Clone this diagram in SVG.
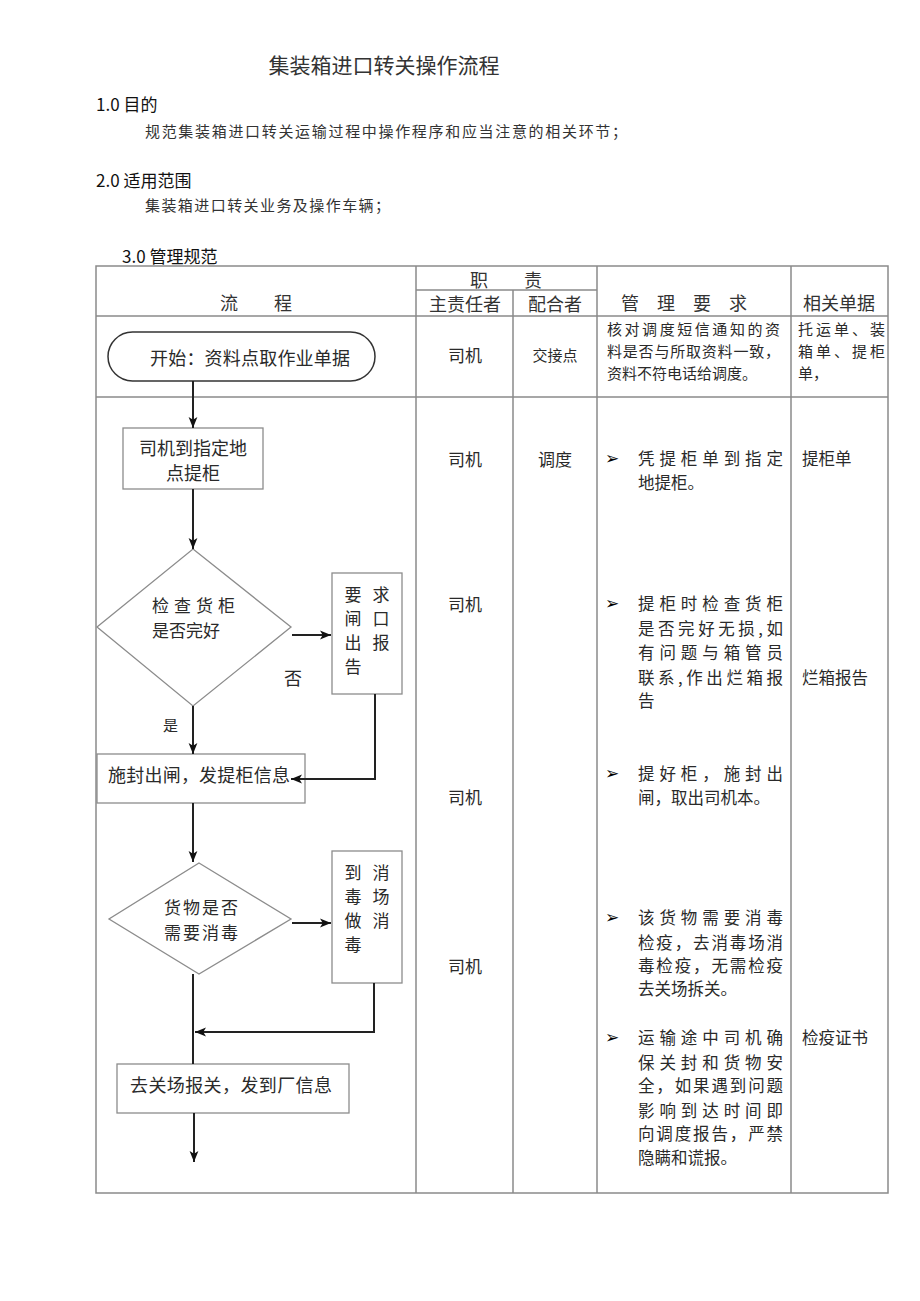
<svg xmlns="http://www.w3.org/2000/svg" width="920" height="1301" viewBox="0 0 920 1301">
<defs>
<style>
text{font-family:"Noto Sans CJK SC","Noto Sans",sans-serif;fill:#2a2a2a;dominant-baseline:central}
.t{font-size:21px;fill:#333}
.h{font-size:17px;fill:#111}
.b{font-size:15px;fill:#333}
.hd{font-size:18px;text-anchor:middle;fill:#333}
.c{font-size:17px;text-anchor:middle}
.r{font-size:16.5px}
.s{font-size:15px}
.f{font-size:18px}
.d{font-size:17px}
.fm{font-size:18px;text-anchor:middle}
.v{font-size:17px;text-anchor:middle}
.bul{font-family:"DejaVu Sans",sans-serif;font-size:17px;fill:#000}
.grid{stroke:#8a8a8a;stroke-width:1.5;fill:none}
.node{fill:#fff;stroke:#8c8c8c;stroke-width:1.3}
.term{fill:#fff;stroke:#333;stroke-width:1.5}
.edge{stroke:#222;stroke-width:2;fill:none}
</style>
<marker id="ah" viewBox="0 0 10 10" refX="10" refY="5" markerWidth="11" markerHeight="11" markerUnits="userSpaceOnUse" orient="auto">
<path d="M0,1 L10,5 L0,9 L2.5,5 Z" fill="#111"/>
</marker>
</defs>
<rect width="920" height="1301" fill="#fff"/>

<g id="header-text">
<text class="t" x="384" y="64" text-anchor="middle">集装箱进口转关操作流程</text>
<text class="h" x="96" y="103">1.0 目的</text>
<text class="b" x="145" y="130" textLength="482" lengthAdjust="spacing">规范集装箱进口转关运输过程中操作程序和应当注意的相关环节；</text>
<text class="h" x="96" y="179">2.0 适用范围</text>
<text class="b" x="145" y="204" textLength="245" lengthAdjust="spacing">集装箱进口转关业务及操作车辆；</text>
<text class="h" x="122" y="255">3.0 管理规范</text>
</g>

<g id="table">
<rect class="grid" x="96" y="266" width="792" height="927"/>
<line class="grid" x1="96" y1="316" x2="888" y2="316"/>
<line class="grid" x1="96" y1="397" x2="888" y2="397"/>
<line class="grid" x1="416" y1="290" x2="597" y2="290"/>
<line class="grid" x1="416" y1="266" x2="416" y2="1193"/>
<line class="grid" x1="513" y1="290" x2="513" y2="1193"/>
<line class="grid" x1="597" y1="266" x2="597" y2="1193"/>
<line class="grid" x1="791" y1="266" x2="791" y2="1193"/>
<text class="hd" x="256" y="302">流　　程</text>
<text class="hd" x="506" y="279">职　　责</text>
<text class="hd" x="465" y="303">主责任者</text>
<text class="hd" x="555" y="303">配合者</text>
<text class="hd" x="684" y="302">管　理　要　求</text>
<text class="hd" x="839" y="302">相关单据</text>
</g>

<g id="col-duty">
<text class="c" x="465" y="354">司机</text>
<text class="c" x="555" y="354" style="font-size:15px">交接点</text>
<text class="c" x="465" y="458">司机</text>
<text class="c" x="555" y="458">调度</text>
<text class="c" x="465" y="603">司机</text>
<text class="c" x="465" y="796">司机</text>
<text class="c" x="465" y="965">司机</text>
</g>

<g id="col-req">
<text class="s" x="607" y="328" textLength="173" lengthAdjust="spacing">核对调度短信通知的资</text>
<text class="s" x="607" y="350" textLength="173" lengthAdjust="spacing">料是否与所取资料一致，</text>
<text class="s" x="607" y="372">资料不符电话给调度。</text>

<text class="bul" x="605" y="458">➢</text>
<text class="r" x="638" y="458" textLength="145" lengthAdjust="spacing">凭提柜单到指定</text>
<text class="r" x="638" y="482">地提柜。</text>

<text class="bul" x="605" y="603">➢</text>
<text class="r" x="638" y="603" textLength="145" lengthAdjust="spacing">提柜时检查货柜</text>
<text class="r" x="638" y="628" textLength="145" lengthAdjust="spacing">是否完好无损,如</text>
<text class="r" x="638" y="652" textLength="145" lengthAdjust="spacing">有问题与箱管员</text>
<text class="r" x="638" y="677" textLength="145" lengthAdjust="spacing">联系,作出烂箱报</text>
<text class="r" x="638" y="700">告</text>

<text class="bul" x="605" y="773">➢</text>
<text class="r" x="638" y="773" textLength="145" lengthAdjust="spacing">提好柜，施封出</text>
<text class="r" x="638" y="797">闸，取出司机本。</text>

<text class="bul" x="605" y="917">➢</text>
<text class="r" x="638" y="917" textLength="145" lengthAdjust="spacing">该货物需要消毒</text>
<text class="r" x="638" y="942" textLength="145" lengthAdjust="spacing">检疫，去消毒场消</text>
<text class="r" x="638" y="965" textLength="145" lengthAdjust="spacing">毒检疫，无需检疫</text>
<text class="r" x="638" y="988">去关场拆关。</text>

<text class="bul" x="605" y="1037">➢</text>
<text class="r" x="638" y="1037" textLength="145" lengthAdjust="spacing">运输途中司机确</text>
<text class="r" x="638" y="1062" textLength="145" lengthAdjust="spacing">保关封和货物安</text>
<text class="r" x="638" y="1085" textLength="145" lengthAdjust="spacing">全，如果遇到问题</text>
<text class="r" x="638" y="1110" textLength="145" lengthAdjust="spacing">影响到达时间即</text>
<text class="r" x="638" y="1133" textLength="145" lengthAdjust="spacing">向调度报告，严禁</text>
<text class="r" x="638" y="1157">隐瞒和谎报。</text>
</g>

<g id="col-docs">
<text class="s" x="798" y="328" textLength="87" lengthAdjust="spacing">托运单、装</text>
<text class="s" x="798" y="350" textLength="87" lengthAdjust="spacing">箱单、提柜</text>
<text class="s" x="798" y="372">单，</text>
<text class="r" x="802" y="458">提柜单</text>
<text class="r" x="802" y="677">烂箱报告</text>
<text class="r" x="802" y="1037">检疫证书</text>
</g>

<g id="n-start">
<rect class="term" x="108" y="332" width="267" height="49" rx="24.5"/>
<text class="f" x="150" y="357" textLength="200" lengthAdjust="spacing">开始：资料点取作业单据</text>
</g>

<g id="n-pick">
<rect class="node" x="123" y="428" width="140" height="61"/>
<text class="fm" x="193" y="447">司机到指定地</text>
<text class="fm" x="193" y="472">点提柜</text>
</g>

<g id="n-check">
<polygon class="node" points="193,549 291,627 193,706 97,627"/>
<text class="d" x="152" y="604" textLength="83" lengthAdjust="spacing">检查货柜</text>
<text class="d" x="152" y="629">是否完好</text>
</g>

<g id="n-report">
<rect class="node" x="332" y="573" width="70" height="121"/>
<text class="v" x="353" y="593">要</text>
<text class="v" x="381" y="593">求</text>
<text class="v" x="353" y="617">闸</text>
<text class="v" x="381" y="617">口</text>
<text class="v" x="353" y="641">出</text>
<text class="v" x="381" y="641">报</text>
<text class="v" x="353" y="665">告</text>
</g>

<g id="n-seal">
<rect class="node" x="97" y="754" width="208" height="49"/>
<text class="f" x="108" y="774" textLength="182" lengthAdjust="spacing">施封出闸，发提柜信息</text>
</g>

<g id="n-disinfect-q">
<polygon class="node" points="199,863 291,919 199,974 109,919"/>
<text class="d" x="164" y="906" textLength="74" lengthAdjust="spacing">货物是否</text>
<text class="d" x="164" y="931" textLength="74" lengthAdjust="spacing">需要消毒</text>
</g>

<g id="n-disinfect">
<rect class="node" x="332" y="851" width="70" height="132"/>
<text class="v" x="353" y="871">到</text>
<text class="v" x="381" y="871">消</text>
<text class="v" x="353" y="895">毒</text>
<text class="v" x="381" y="895">场</text>
<text class="v" x="353" y="919">做</text>
<text class="v" x="381" y="919">消</text>
<text class="v" x="353" y="943">毒</text>
</g>

<g id="n-customs">
<rect class="node" x="117" y="1064" width="232" height="49"/>
<text class="f" x="130" y="1084" textLength="202" lengthAdjust="spacing">去关场报关，发到厂信息</text>
</g>

<g id="connectors">
<line class="edge" x1="193" y1="381" x2="193" y2="428" marker-end="url(#ah)"/>
<line class="edge" x1="193" y1="489" x2="193" y2="549" marker-end="url(#ah)"/>
<line class="edge" x1="292" y1="635" x2="331" y2="635" marker-end="url(#ah)"/>
<line class="edge" x1="193" y1="706" x2="193" y2="754" marker-end="url(#ah)"/>
<polyline class="edge" points="375,694 375,779 291,779" marker-end="url(#ah)"/>
<line class="edge" x1="193" y1="803" x2="193" y2="862" marker-end="url(#ah)"/>
<line class="edge" x1="292" y1="923" x2="331" y2="923" marker-end="url(#ah)"/>
<line class="edge" x1="193" y1="974" x2="193" y2="1064"/>
<polyline class="edge" points="374,983 374,1032 195,1032" marker-end="url(#ah)"/>
<line class="edge" x1="194" y1="1113" x2="194" y2="1162" marker-end="url(#ah)"/>
<text class="f" x="284" y="677">否</text>
<text class="s" x="163" y="724">是</text>
</g>
</svg>
